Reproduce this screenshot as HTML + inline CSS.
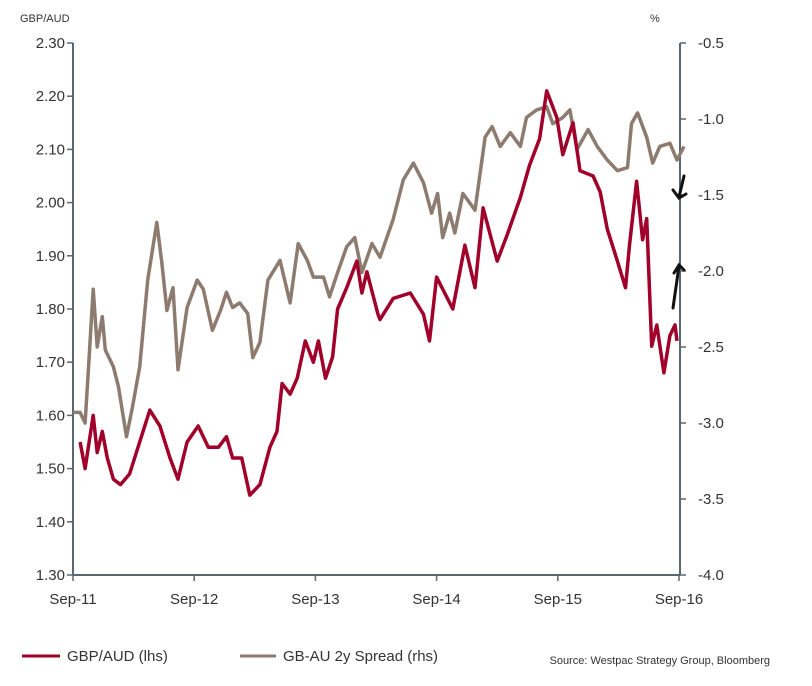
<!DOCTYPE html>
<html><head><meta charset="utf-8"><style>
body{margin:0;background:#fff;font-family:"Liberation Sans",Arial,sans-serif;}
svg text{font-family:"Liberation Sans",Arial,sans-serif;}
</style></head><body>
<svg id="chart" width="812" height="681" viewBox="0 0 812 681">
<text x="20" y="22" font-size="11" fill="#333">GBP/AUD</text>
<text x="650" y="22" font-size="11" fill="#333">%</text>
<g id="axes"></g>
<g id="series"></g>
<g stroke="#111" stroke-width="3" fill="none" stroke-linecap="round">
<path d="M684,176 L679,197 M673,190 L679,198 L686,194"/>
<path d="M673,308 L679,266 M674,273 L679,265 L684,270"/>
</g>
<g>
<line x1="22" y1="656" x2="60" y2="656" stroke="#a0002a" stroke-width="3"/>
<text x="67" y="661" font-size="15" fill="#333">GBP/AUD (lhs)</text>
<line x1="240" y1="656" x2="276" y2="656" stroke="#8c7b6e" stroke-width="3"/>
<text x="283" y="661" font-size="15" fill="#333">GB-AU 2y Spread (rhs)</text>
</g>
<text x="770" y="664" font-size="11" fill="#333" text-anchor="end">Source: Westpac Strategy Group, Bloomberg</text>
</svg>
<script>
const leftTicks=[1.30,1.40,1.50,1.60,1.70,1.80,1.90,2.00,2.10,2.20,2.30];
const rightTicks=[-4.0,-3.5,-3.0,-2.5,-2.0,-1.5,-1.0,-0.5];
const xTickLabels=["Sep-11","Sep-12","Sep-13","Sep-14","Sep-15","Sep-16"];
const xTickMonths=[0,12,24,36,48,60];
const gbpMonths=[0.7,1.2,2.0,2.4,2.9,3.4,4.0,4.7,5.6,6.6,7.6,8.6,9.6,10.4,11.3,12.4,13.4,14.4,15.2,15.8,16.7,17.5,18.5,19.5,20.2,20.7,21.5,22.2,23.0,23.8,24.3,25.0,25.7,26.2,27.1,28.1,28.6,29.1,30.2,30.4,31.7,33.4,34.7,35.3,36.0,37.6,38.8,39.8,40.6,42.0,43.0,44.3,45.2,46.2,46.9,47.9,48.5,49.5,50.2,51.5,52.2,52.9,53.9,54.7,55.1,55.8,56.4,56.8,57.3,57.8,58.5,59.1,59.6,59.8];
const gbpValues=[1.55,1.50,1.60,1.53,1.57,1.52,1.48,1.47,1.49,1.55,1.61,1.58,1.52,1.48,1.55,1.58,1.54,1.54,1.56,1.52,1.52,1.45,1.47,1.54,1.57,1.66,1.64,1.67,1.74,1.70,1.74,1.67,1.71,1.80,1.84,1.89,1.83,1.87,1.79,1.78,1.82,1.83,1.79,1.74,1.86,1.80,1.92,1.84,1.99,1.89,1.94,2.01,2.07,2.12,2.21,2.16,2.09,2.15,2.06,2.05,2.02,1.95,1.89,1.84,1.92,2.04,1.93,1.97,1.73,1.77,1.68,1.75,1.77,1.74];
const sprMonths=[0,0.7,1.2,1.5,2.0,2.4,2.9,3.2,4.0,4.5,5.3,5.9,6.6,7.4,8.3,8.8,9.3,9.9,10.4,11.3,12.3,12.9,13.8,14.6,15.2,15.8,16.5,17.3,17.8,18.5,19.3,20.5,21.5,22.3,23.2,23.8,24.8,25.4,26.2,27.1,27.9,28.6,29.6,30.4,31.7,32.7,33.7,34.7,35.5,36.1,36.6,37.3,37.8,38.6,39.8,40.8,41.5,42.3,43.3,44.3,44.9,45.9,46.9,47.5,48.5,49.2,49.9,51.0,51.9,52.9,53.9,54.9,55.3,55.9,56.8,57.4,58.1,59.1,59.8,60.5];
const sprValues=[-2.93,-2.93,-3.0,-2.67,-2.12,-2.5,-2.30,-2.52,-2.63,-2.76,-3.09,-2.89,-2.63,-2.06,-1.68,-1.95,-2.26,-2.11,-2.65,-2.24,-2.06,-2.12,-2.39,-2.26,-2.14,-2.24,-2.21,-2.28,-2.57,-2.47,-2.06,-1.93,-2.21,-1.82,-1.93,-2.04,-2.04,-2.17,-2.01,-1.84,-1.78,-2.01,-1.82,-1.91,-1.66,-1.40,-1.29,-1.42,-1.62,-1.49,-1.78,-1.62,-1.75,-1.49,-1.60,-1.12,-1.05,-1.18,-1.09,-1.18,-0.99,-0.94,-0.92,-1.03,-0.99,-0.94,-1.20,-1.07,-1.18,-1.27,-1.34,-1.32,-1.03,-0.96,-1.12,-1.29,-1.18,-1.16,-1.27,-1.18];

const L=73,R=680,T=43,B=575;
const xS=m=>L+m*(606/60);
const yL=v=>B-(v-1.3)/(1.0)*(B-T);
const yR=v=>B-(v+4)/(3.5)*(B-T);
const NS="http://www.w3.org/2000/svg";
const ax=document.getElementById('axes');
function mk(tag,attrs,parent){const e=document.createElementNS(NS,tag);for(const k in attrs)e.setAttribute(k,attrs[k]);parent.appendChild(e);return e;}
const axc="#5a6670";
let e=mk('line',{x1:L,y1:T,x2:L,y2:B,stroke:axc,'stroke-width':2},ax);


e=mk('line',{x1:R,y1:T,x2:R,y2:B,stroke:axc,'stroke-width':2},ax);


e=mk('line',{x1:L,y1:B,x2:R,y2:B,stroke:axc,'stroke-width':2},ax);


leftTicks.forEach(v=>{const y=yL(v);
 mk('line',{x1:L-6,y1:y,x2:L,y2:y,stroke:axc,'stroke-width':1.5},ax);
 const t=mk('text',{x:L-8,y:y+5,'font-size':15,fill:'#333','text-anchor':'end'},ax);t.textContent=v.toFixed(2);
 
 });
rightTicks.forEach(v=>{const y=yR(v);
 mk('line',{x1:R,y1:y,x2:R+6,y2:y,stroke:axc,'stroke-width':1.5},ax);
 const t=mk('text',{x:R+18,y:y+5,'font-size':15,fill:'#333'},ax);t.textContent=v.toFixed(1);
 
 });
xTickMonths.forEach((m,i)=>{const x=xS(m);
 mk('line',{x1:x,y1:B,x2:x,y2:B+6,stroke:axc,'stroke-width':1.5},ax);
 const t=mk('text',{x:x,y:604,'font-size':15,fill:'#333','text-anchor':'middle'},ax);t.textContent=xTickLabels[i];
 
 });
const sg=document.getElementById('series');
const sp=mk('path',{d:sprMonths.map((m,i)=>(i?'L':'M')+xS(m).toFixed(1)+','+yR(sprValues[i]).toFixed(1)).join(''),fill:'none',stroke:'#8c7b6e','stroke-width':3.5,'stroke-linejoin':'round'},sg);


const gp=mk('path',{d:gbpMonths.map((m,i)=>(i?'L':'M')+xS(m).toFixed(1)+','+yL(gbpValues[i]).toFixed(1)).join(''),fill:'none',stroke:'#a0002a','stroke-width':3.5,'stroke-linejoin':'round'},sg);


</script>
</body></html>
